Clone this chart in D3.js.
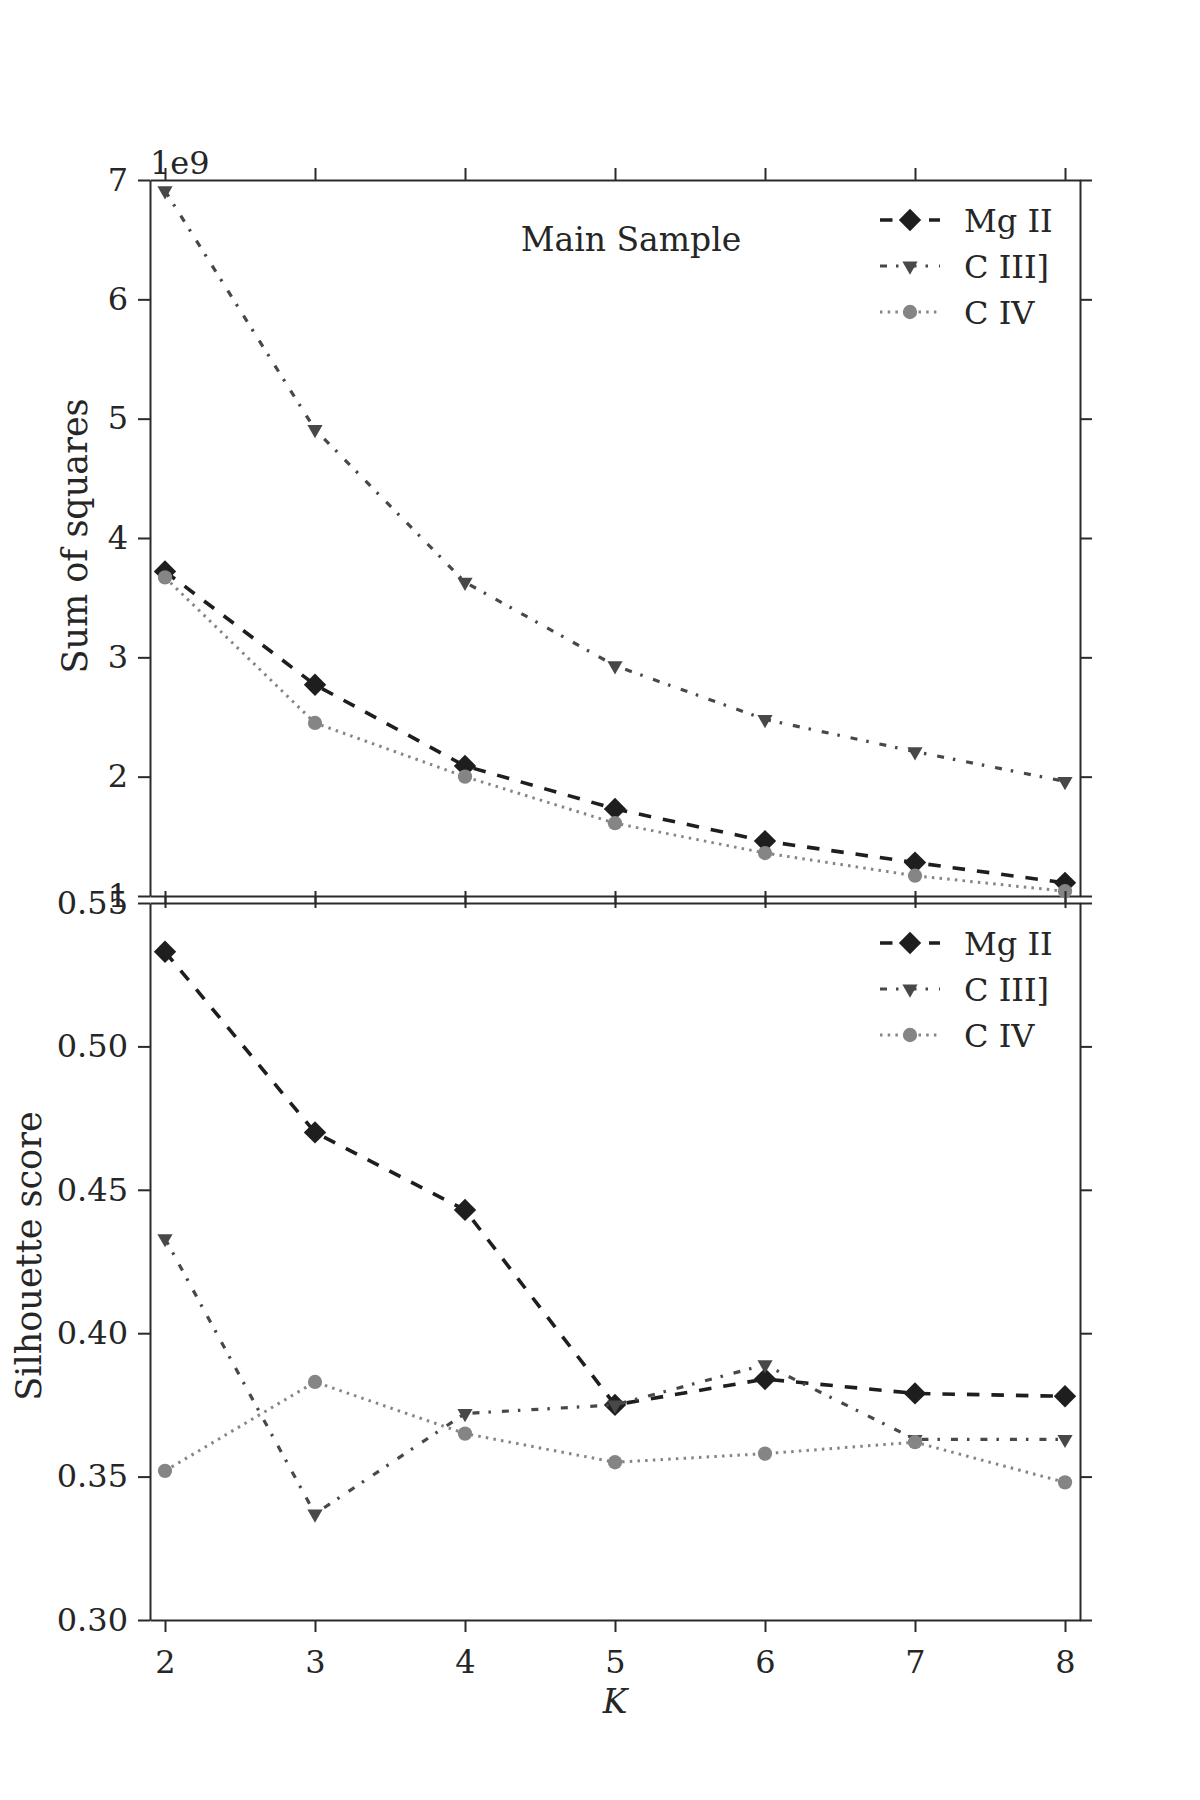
<!DOCTYPE html>
<html>
<head>
<meta charset="utf-8">
<script src="https://cdn.jsdelivr.net/npm/d3@7"></script>
<style>
  body { margin: 0; background: #fff; }
  svg text { font-family: "DejaVu Serif", serif; fill: #262626; }
</style>
</head>
<body>
<svg id="canvas" width="1200" height="1800"></svg>
<script>
// values
let kValues = [2, 3, 4, 5, 6, 7, 8];
let seriesNames = ["Mg II", "C III]", "C IV"];

// sum of squares, in units of 1e9
let ssMgII = [3.72, 2.77, 2.09, 1.73, 1.46, 1.28, 1.11];
let ssCIII = [6.91, 4.91, 3.63, 2.93, 2.48, 2.21, 1.96];
let ssCIV = [3.67, 2.45, 2.00, 1.61, 1.36, 1.17, 1.04];

let silMgII = [0.533, 0.470, 0.443, 0.375, 0.384, 0.379, 0.378];
let silCIII = [0.433, 0.337, 0.372, 0.375, 0.389, 0.363, 0.363];
let silCIV = [0.352, 0.383, 0.365, 0.355, 0.358, 0.362, 0.348];

let ssTicks = [1, 2, 3, 4, 5, 6, 7];
let silTicks = [0.30, 0.35, 0.40, 0.45, 0.50, 0.55];

let styles = [
    { color: '#1e1e1e', dash: '12.5,12', width: 3.6, marker: 'diamond' },
    { color: '#484848', dash: '7,9,2.5,11', width: 3.2, marker: 'triangle' },
    { color: '#858585', dash: '2.5,5.2', width: 3, marker: 'circle' }
];

let canvas = d3.select("#canvas");

let x = d3.scaleLinear().domain([1.9, 8.1]).range([150, 1080]);

let markerPath = (kind) => {
    if (kind === 'diamond') {
        return d3.symbol().type(d3.symbolSquare).size(250)();
    } else if (kind === 'triangle') {
        return d3.symbol().type(d3.symbolTriangle).size(100)();
    }
    return d3.symbol().type(d3.symbolCircle).size(160)();
}

let markerRotate = (kind) => {
    if (kind === 'diamond') return ' rotate(45)';
    if (kind === 'triangle') return ' rotate(180)';
    return '';
}

let styleAxis = (g) => {
    g.selectAll('path.domain').attr('stroke', '#2b2b2b').attr('stroke-width', 2);
    g.selectAll('.tick line').attr('stroke', '#2b2b2b').attr('stroke-width', 2);
    g.selectAll('.tick text')
        .attr('font-family', 'DejaVu Serif')
        .attr('font-size', 32)
        .attr('fill', '#262626');
}

let drawPanel = (top, bottom, domain, ticks, fmt, series) => {
    let y = d3.scaleLinear().domain(domain).range([bottom, top]);
    let panel = canvas.append('g');

    let left = panel.append('g')
        .attr('transform', 'translate(150,0)')
        .call(d3.axisLeft(y).tickValues(ticks).tickFormat(fmt).tickSize(12).tickSizeOuter(0).tickPadding(10));
    styleAxis(left);

    let right = panel.append('g')
        .attr('transform', 'translate(1080,0)')
        .call(d3.axisRight(y).tickValues(ticks).tickFormat('').tickSize(12).tickSizeOuter(0));
    styleAxis(right);

    let topAxis = panel.append('g')
        .attr('transform', 'translate(0,' + top + ')')
        .call(d3.axisTop(x).tickValues(kValues).tickFormat('').tickSize(12).tickSizeOuter(0));
    styleAxis(topAxis);

    let bottomAxis = panel.append('g')
        .attr('transform', 'translate(0,' + bottom + ')')
        .call(d3.axisBottom(x).tickValues(kValues).tickFormat(d3.format('d')).tickSize(12).tickSizeOuter(0).tickPadding(18));
    styleAxis(bottomAxis);

    // drop the bottom numbers on the upper panel
    if (top < 500) {
        bottomAxis.selectAll('.tick text').remove();
    }

    let line = d3.line()
        .x((d, i) => x(kValues[i]))
        .y((d) => y(d));

    series.forEach((values, s) => {
        let st = styles[s];
        panel.append('path')
            .datum(values)
            .attr('d', line)
            .attr('fill', 'none')
            .attr('stroke', st.color)
            .attr('stroke-width', st.width)
            .attr('stroke-dasharray', st.dash);

        panel.selectAll('.m' + s)
            .data(values)
            .enter()
            .append('path')
            .attr('class', 'm' + s)
            .attr('d', markerPath(st.marker))
            .attr('fill', st.color)
            .attr('transform', (d, i) => 'translate(' + x(kValues[i]) + ',' + y(d) + ')' + markerRotate(st.marker));
    });

    // legend
    let legend = panel.append('g').attr('transform', 'translate(0,' + (top + 40) + ')');
    seriesNames.forEach((name, s) => {
        let st = styles[s];
        let row = legend.append('g').attr('transform', 'translate(0,' + (s * 46) + ')');
        row.append('line')
            .attr('x1', 880).attr('x2', 940)
            .attr('y1', 0).attr('y2', 0)
            .attr('stroke', st.color)
            .attr('stroke-width', st.width)
            .attr('stroke-dasharray', st.dash);
        row.append('path')
            .attr('d', markerPath(st.marker))
            .attr('fill', st.color)
            .attr('transform', 'translate(910,0)' + markerRotate(st.marker));
        row.append('text')
            .attr('x', 964)
            .attr('y', 12)
            .attr('font-size', 32)
            .text(name);
    });

    return y;
}

drawPanel(180, 896, [1, 7], ssTicks, d3.format('d'), [ssMgII, ssCIII, ssCIV]);
drawPanel(903, 1620, [0.30, 0.55], silTicks, d3.format('.2f'), [silMgII, silCIII, silCIV]);

// texts
canvas.append('text')
    .attr('x', 150).attr('y', 174)
    .attr('font-size', 32)
    .text('1e9');

canvas.append('text')
    .attr('x', 631).attr('y', 251)
    .attr('text-anchor', 'middle')
    .attr('font-size', 33)
    .text('Main Sample');

canvas.append('text')
    .attr('transform', 'translate(87,536) rotate(-90)')
    .attr('text-anchor', 'middle')
    .attr('font-size', 35)
    .text('Sum of squares');

canvas.append('text')
    .attr('transform', 'translate(41,1256) rotate(-90)')
    .attr('text-anchor', 'middle')
    .attr('font-size', 35)
    .text('Silhouette score');

canvas.append('text')
    .attr('x', 615).attr('y', 1713)
    .attr('text-anchor', 'middle')
    .attr('font-size', 33)
    .attr('font-style', 'italic')
    .text('K');
</script>
</body>
</html>
